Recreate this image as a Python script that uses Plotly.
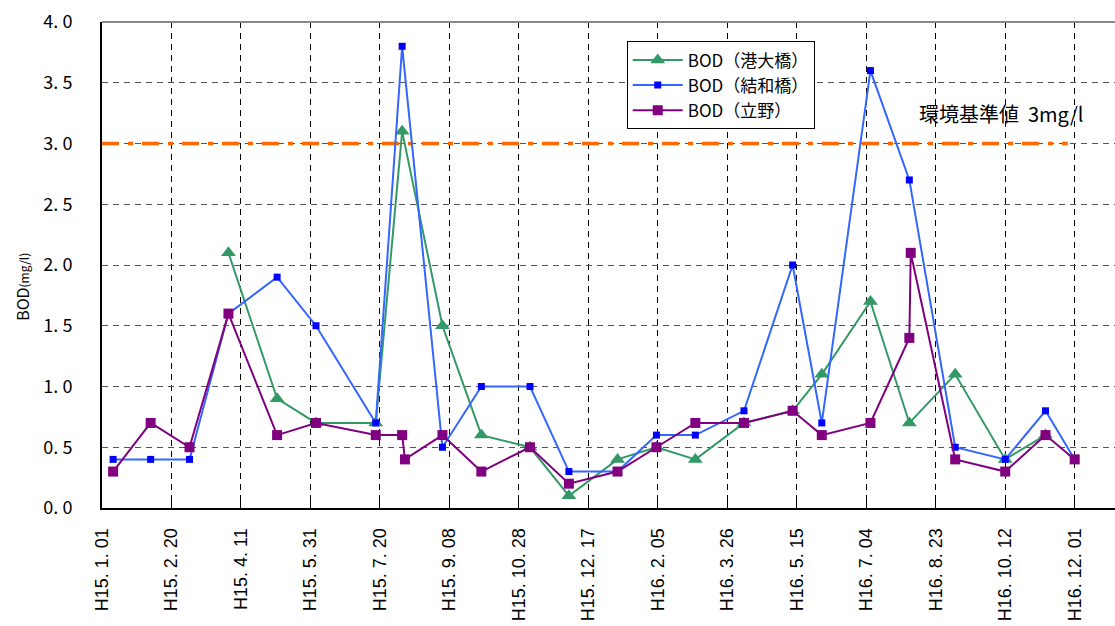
import plotly.graph_objects as go

# Sampling dates and BOD values (mg/l) per station
dates_kodaibashi = [
    "2003-04-02", "2003-05-07", "2003-06-04", "2003-07-17", "2003-08-05",
    "2003-09-03", "2003-10-01", "2003-11-05", "2003-12-03", "2004-01-07",
    "2004-02-04", "2004-03-03", "2004-04-07", "2004-05-12", "2004-06-02",
    "2004-07-07", "2004-08-04", "2004-09-06", "2004-10-12", "2004-11-10",
]
bod_kodaibashi = [2.1, 0.9, 0.7, 0.7, 3.1, 1.5, 0.6, 0.5, 0.1, 0.4,
                  0.5, 0.4, 0.7, 0.8, 1.1, 1.7, 0.7, 1.1, 0.4, 0.6]

dates_kekkabashi = [
    "2003-01-09", "2003-02-05", "2003-03-05", "2003-04-02", "2003-05-07",
    "2003-06-04", "2003-07-17", "2003-08-05", "2003-09-03", "2003-10-01",
    "2003-11-05", "2003-12-03", "2004-01-07", "2004-02-04", "2004-03-03",
    "2004-04-07", "2004-05-12", "2004-06-02", "2004-07-07", "2004-08-04",
    "2004-09-06", "2004-10-12", "2004-11-10", "2004-12-01",
]
bod_kekkabashi = [0.4, 0.4, 0.4, 1.6, 1.9, 1.5, 0.7, 3.8, 0.5, 1.0,
                  1.0, 0.3, 0.3, 0.6, 0.6, 0.8, 2.0, 0.7, 3.6, 2.7,
                  0.5, 0.4, 0.8, 0.4]

dates_tateno = [
    "2003-01-09", "2003-02-05", "2003-03-05", "2003-04-02", "2003-05-07",
    "2003-06-04", "2003-07-17", "2003-08-05", "2003-08-07", "2003-09-03",
    "2003-10-01", "2003-11-05", "2003-12-03", "2004-01-07", "2004-02-04",
    "2004-03-03", "2004-04-07", "2004-05-12", "2004-06-02", "2004-07-07",
    "2004-08-04", "2004-08-05", "2004-09-06", "2004-10-12", "2004-11-10",
    "2004-12-01",
]
bod_tateno = [0.3, 0.7, 0.5, 1.6, 0.6, 0.7, 0.6, 0.6, 0.4, 0.6,
              0.3, 0.5, 0.2, 0.3, 0.5, 0.7, 0.7, 0.8, 0.6, 0.7,
              1.4, 2.1, 0.4, 0.3, 0.6, 0.4]

# Environmental standard line
standard_dates = ["2003-01-01", "2004-11-26"]
standard_value = [3.0, 3.0]

# Date axis ticks (every 50 days) and their era-style labels
tick_dates = [
    "2003-01-01", "2003-02-20", "2003-04-11", "2003-05-31", "2003-07-20",
    "2003-09-08", "2003-10-28", "2003-12-17", "2004-02-05", "2004-03-26",
    "2004-05-15", "2004-07-04", "2004-08-23", "2004-10-12", "2004-12-01",
]
tick_labels = [
    "H15. 1. 01", "H15. 2. 20", "H15. 4. 11", "H15. 5. 31", "H15. 7. 20",
    "H15. 9. 08", "H15. 10. 28", "H15. 12. 17", "H16. 2. 05", "H16. 3. 26",
    "H16. 5. 15", "H16. 7. 04", "H16. 8. 23", "H16. 10. 12", "H16. 12. 01",
]
y_ticks = [0.0, 0.5, 1.0, 1.5, 2.0, 2.5, 3.0, 3.5, 4.0]
y_labels = ["0. 0", "0. 5", "1. 0", "1. 5", "2. 0", "2. 5", "3. 0", "3. 5", "4. 0"]

JP = "Noto Sans CJK JP"

fig = go.Figure()

fig.add_trace(go.Scatter(
    x=standard_dates, y=standard_value, mode="lines",
    line=dict(color="#FF6600", width=3.5, dash="17px,9px,5px,9px"),
    showlegend=False, hoverinfo="skip",
))

fig.add_trace(go.Scatter(
    x=dates_kodaibashi, y=bod_kodaibashi, mode="lines+markers",
    name="BOD（港大橋）", legendgroup="a",
    line=dict(color="#339966", width=2),
    marker=dict(symbol="triangle-up", size=13, color="#339966"),
))
fig.add_trace(go.Scatter(
    x=dates_kekkabashi, y=bod_kekkabashi, mode="lines+markers",
    name="BOD（結和橋）", legendgroup="b",
    line=dict(color="#3366FF", width=2),
    marker=dict(symbol="square", size=7, color="#0000FF"),
))
fig.add_trace(go.Scatter(
    x=dates_tateno, y=bod_tateno, mode="lines+markers",
    name="BOD（立野）", legendgroup="c",
    line=dict(color="#800080", width=2),
    marker=dict(symbol="square", size=10, color="#800080"),
))

fig.update_layout(
    width=1115, height=626,
    margin=dict(l=102, r=0, t=22, b=118, autoexpand=False),
    paper_bgcolor="white", plot_bgcolor="white",
    font=dict(family=JP, color="black"),
    showlegend=True,
    legend=dict(
        x=0.518, y=0.96, xanchor="left", yanchor="top",
        bgcolor="white", bordercolor="black", borderwidth=1,
        font=dict(family=JP, size=17, color="black"),
        itemwidth=50, tracegroupgap=6, traceorder="normal",
    ),
    xaxis=dict(
        type="date", range=["2003-01-01", "2004-12-30"], automargin=False,
        tickmode="array", tickvals=tick_dates, ticktext=tick_labels,
        tickangle=-90, tickfont=dict(family="Liberation Sans", size=18, color="black"),
        ticks="inside", ticklen=8, tickcolor="black", tickwidth=1,
        ticklabelstandoff=11,
        showline=True, linecolor="black", linewidth=2,
        showgrid=True, gridcolor="black", gridwidth=1, griddash="6px,5px",
        zeroline=False,
    ),
    yaxis=dict(
        range=[0, 4], automargin=False,
        tickmode="array", tickvals=y_ticks, ticktext=y_labels,
        tickfont=dict(family=JP, size=18, color="black"),
        ticks="", ticklabelstandoff=24,
        showline=True, linecolor="black", linewidth=2,
        showgrid=True, gridcolor="#555555", gridwidth=1, griddash="6px,5px",
        zeroline=False,
    ),
    shapes=[
        dict(type="line", xref="paper", yref="paper", x0=0, x1=1, y0=1, y1=1,
             line=dict(color="#888888", width=2)),
    ],
    annotations=[
        dict(text="環境基準値  3mg/l", xref="paper", yref="y",
             x=0.805, y=3.25, xanchor="left", yanchor="middle", showarrow=False,
             font=dict(family=JP, size=20, color="black")),
        dict(text="BOD<span style='font-size:12px'>(mg/l)</span>",
             xref="paper", yref="paper", x=-0.079, y=0.455,
             xanchor="center", yanchor="middle", textangle=-90, showarrow=False,
             font=dict(family=JP, size=16, color="black")),
    ],
)

fig.write_html("out.html")
